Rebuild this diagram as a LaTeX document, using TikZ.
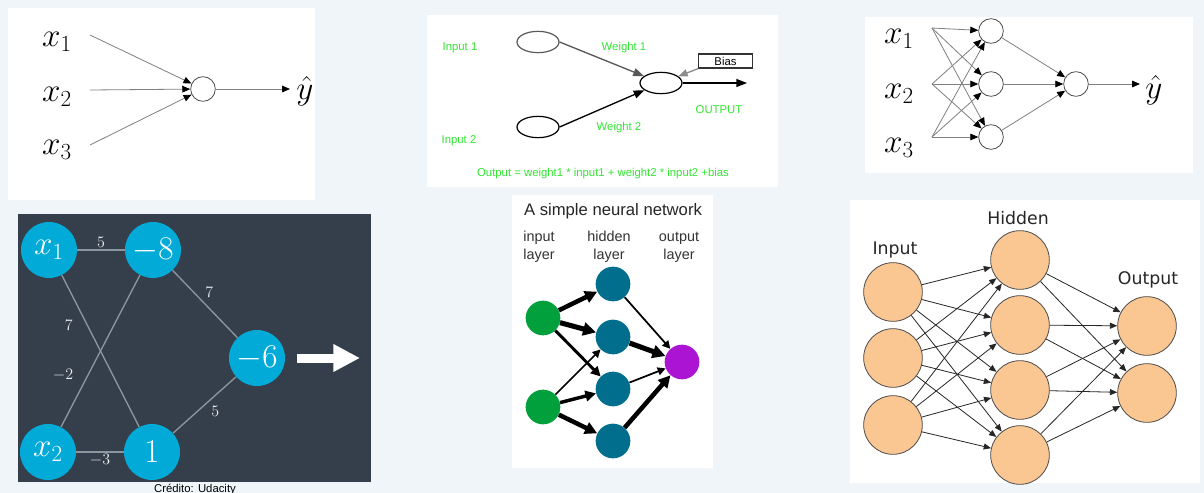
\documentclass[tikz,border=0pt]{standalone}
\usepackage{fontspec}
\newfontfamily\arialfont{Liberation Sans}
\newfontfamily\verafont{DejaVu Sans}
\usetikzlibrary{arrows.meta,shapes.geometric,positioning}
\definecolor{pagebg}{RGB}{240,245,249}
\definecolor{slate}{RGB}{52,63,75}
\definecolor{cyanball}{RGB}{2,170,216}
\definecolor{edgegray}{RGB}{140,150,158}
\definecolor{formgreen}{RGB}{50,230,50}
\definecolor{ingreen}{RGB}{2,160,60}
\definecolor{hidteal}{RGB}{0,110,140}
\definecolor{outpurple}{RGB}{170,20,210}
\definecolor{peach}{RGB}{250,198,146}
\tikzset{
  sn/.style={circle, draw=black!70, fill=white, minimum size=18.5pt, inner sep=0pt, line width=0.6pt},
  xl/.style={inner sep=0pt, font=\fontsize{24}{28}\selectfont},
  ga/.style={draw=black!50, line width=0.6pt, -{Triangle[length=6pt, width=5pt, color=black]}},
  el/.style={ellipse, draw=black, line width=0.9pt, minimum width=31.5pt, minimum height=16pt, inner sep=0pt},
  gt/.style={text=formgreen, inner sep=0pt, font=\arialfont\fontsize{8.5}{10}\selectfont},
  bx/.style={rectangle, draw=black!80, line width=0.8pt, minimum width=40pt, minimum height=10.5pt, inner sep=0pt, font=\arialfont\fontsize{8.5}{10}\selectfont},
  dn/.style={circle, fill=cyanball, text=white, minimum size=42pt, inner sep=0pt, font=\fontsize{25}{30}\selectfont},
  dl/.style={draw=edgegray, line width=1pt},
  wl/.style={text=white!85!edgegray, inner sep=1.5pt, font=\fontsize{11.5}{13}\selectfont},
  lay/.style={align=center, inner sep=0pt, font=\arialfont\fontsize{10.8}{13.7}\selectfont, text=black!80},
  ar/.style={draw=black, line width=#1, -{Triangle[length=4pt 1.5, width=4pt 1.5]}},
  pn/.style={circle, minimum size=26pt, inner sep=0pt},
  on/.style={circle, draw=black!70, fill=peach, minimum size=44pt, inner sep=0pt, line width=0.6pt},
  oa/.style={draw=black!85, line width=0.6pt, -{Triangle[length=5.5pt, width=4.5pt]}},
  ot/.style={inner sep=0pt, font=\verafont\fontsize{13}{15}\selectfont, text=black!85}
}
\begin{document}
\begin{tikzpicture}[x=0.75pt, y=-0.75pt]
\useasboundingbox (0,0) rectangle (1204,493);
\fill[pagebg] (0,0) rectangle (1204,493);
\fill[white] (8,8) rectangle (315,200);
\fill[white] (427,15) rectangle (778,187);
\fill[white] (865,17) rectangle (1193,173);
\fill[white] (512,195) rectangle (713,468);
\fill[white] (850,200) rectangle (1200,483);

% single neuron
\node[xl] (ax1) at (57,42) {$x_1$};
\node[xl] (ax2) at (57,97) {$x_2$};
\node[xl] (ax3) at (57,150) {$x_3$};
\coordinate (as1) at (90,35);
\coordinate (as2) at (90,90);
\coordinate (as3) at (90,145);
\node[sn] (an) at (203,89) {};
\coordinate (aend) at (290,89);
\node[xl] (ayhat) at (305,91) {$\hat{y}$};
\path
(as1) edge[ga] (an)
(as2) edge[ga] (an)
(as3) edge[ga] (an)
(an) edge[ga] (aend);

% weights and bias
\node[gt] (bin1) at (460,48) {Input 1};
\node[el, draw=black!65] (be1) at (538,42) {};
\node[gt] (bw1) at (624,48) {Weight 1};
\node[el] (bo) at (661,83) {};
\node[bx] (bbias) at (725.5,61) {Bias};
\node[gt] (bout) at (719,110) {OUTPUT};
\node[el] (be2) at (538,127) {};
\node[gt] (bw2) at (619,128) {Weight 2};
\node[gt] (bin2) at (459,141) {Input 2};
\node[gt] (bform) at (603,174) {Output = weight1 * input1 + weight2 * input2 +bias};
\coordinate (bend) at (747,83);
\path
(be1.east) edge[draw=black!65, line width=1pt, -{Triangle[length=8pt, width=6pt]}] (bo)
(bbias.south west) edge[draw=black!45, line width=1pt, -{Triangle[length=7pt, width=5.5pt]}] (bo)
(be2.east) edge[draw=black, line width=1pt, -{Triangle[length=8pt, width=6pt]}] (bo)
(bo.east) edge[draw=black, line width=1pt, -{Triangle[length=8pt, width=6pt]}] (bend);

% one hidden layer
\node[xl, font=\fontsize{23}{27}\selectfont] (cx1) at (899,39) {$x_1$};
\node[xl, font=\fontsize{23}{27}\selectfont] (cx2) at (899,94) {$x_2$};
\node[xl, font=\fontsize{23}{27}\selectfont] (cx3) at (899,148) {$x_3$};
\coordinate (cs1) at (932,28);
\coordinate (cs2) at (932,84);
\coordinate (cs3) at (932,137);
\node[sn] (ch1) at (991,31) {};
\node[sn] (ch2) at (991,84) {};
\node[sn] (ch3) at (991,137) {};
\node[sn] (co) at (1076,84) {};
\coordinate (cend) at (1140,84);
\node[xl, font=\fontsize{23}{27}\selectfont] (cyhat) at (1154,90) {$\hat{y}$};
\path
(cs1) edge[ga] (ch1)
(cs1) edge[ga] (ch2)
(cs1) edge[ga] (ch3)
(cs2) edge[ga] (ch1)
(cs2) edge[ga] (ch2)
(cs2) edge[ga] (ch3)
(cs3) edge[ga] (ch1)
(cs3) edge[ga] (ch2)
(cs3) edge[ga] (ch3)
(ch1) edge[ga] (co)
(ch2) edge[ga] (co)
(ch3) edge[ga] (co)
(co) edge[ga] (cend);

% worked example on dark panel
\fill[slate] (18,214) rectangle (371,482);
\node[dn] (dx1) at (49,250) {$x_1$};
\node[dn] (dm8) at (153,250) {$-8$};
\node[dn] (dm6) at (257,358) {$-6$};
\node[dn] (dx2) at (48,452) {$x_2$};
\node[dn] (done) at (152,452) {$1$};
\path
(dx1) edge[dl] node[wl, above] {$5$} (dm8)
(dx1) edge[dl] node[wl, left=9pt, pos=0.33] {$7$} (done)
(dx2) edge[dl] node[wl, left=9pt, pos=0.34] {$-2$} (dm8)
(dx2) edge[dl] node[wl, below] {$-3$} (done)
(dm8) edge[dl] node[wl, above right=1pt, pos=0.45] {$7$} (dm6)
(done) edge[dl] node[wl, below right=1pt, pos=0.55] {$5$} (dm6);
\coordinate (dwa) at (297,358);
\coordinate (dwb) at (360,358);
\draw[white, line width=6.75pt, -{Triangle[length=20pt, width=19.5pt]}] (dwa) -- (dwb);
\node[anchor=north, inner sep=0pt, font=\arialfont\fontsize{8.5}{10}\selectfont] (dcap) at (195,483.5) {Crédito: Udacity};

% simple neural network
\node[inner sep=0pt, font=\arialfont\fontsize{12.5}{15}\selectfont, text=black!85] (etitle) at (613,211) {A simple neural network};
\node[lay] (elin) at (539,247) {input\\layer};
\node[lay] (elhid) at (609,247) {hidden\\layer};
\node[lay] (elout) at (679,247) {output\\layer};
\node[pn, fill=ingreen] (ei1) at (543,318) {};
\node[pn, fill=ingreen] (ei2) at (543,407) {};
\node[pn, fill=hidteal] (eh1) at (613,284) {};
\node[pn, fill=hidteal] (eh2) at (613,337) {};
\node[pn, fill=hidteal] (eh3) at (613,389) {};
\node[pn, fill=hidteal] (eh4) at (613,441) {};
\node[pn, fill=outpurple] (eo) at (682,362) {};
\path
(ei1) edge[ar=3.4pt] (eh1)
(ei1) edge[ar=3.8pt] (eh2)
(ei1) edge[ar=2.2pt] (eh3)
(ei2) edge[ar=1.3pt] (eh2)
(ei2) edge[ar=2.6pt] (eh3)
(ei2) edge[ar=3.4pt] (eh4)
(eh1) edge[ar=1.3pt] (eo)
(eh2) edge[ar=3.8pt] (eo)
(eh3) edge[ar=1.3pt] (eo)
(eh4) edge[ar=3.4pt] (eo);

% input hidden output
\node[ot] (ftin) at (895,250) {Input};
\node[ot] (fthid) at (1018,218) {Hidden};
\node[ot] (ftout) at (1148,280) {Output};
\node[on] (fi1) at (893,292) {};
\node[on] (fi2) at (893,358) {};
\node[on] (fi3) at (893,425) {};
\node[on] (fh1) at (1020,260) {};
\node[on] (fh2) at (1020,325) {};
\node[on] (fh3) at (1020,390) {};
\node[on] (fh4) at (1020,455) {};
\node[on] (fo1) at (1147,326) {};
\node[on] (fo2) at (1147,393) {};
\path
(fi1) edge[oa] (fh1)
(fi1) edge[oa] (fh2)
(fi1) edge[oa] (fh3)
(fi1) edge[oa] (fh4)
(fi2) edge[oa] (fh1)
(fi2) edge[oa] (fh2)
(fi2) edge[oa] (fh3)
(fi2) edge[oa] (fh4)
(fi3) edge[oa] (fh1)
(fi3) edge[oa] (fh2)
(fi3) edge[oa] (fh3)
(fi3) edge[oa] (fh4)
(fh1) edge[oa] (fo1)
(fh1) edge[oa] (fo2)
(fh2) edge[oa] (fo1)
(fh2) edge[oa] (fo2)
(fh3) edge[oa] (fo1)
(fh3) edge[oa] (fo2)
(fh4) edge[oa] (fo1)
(fh4) edge[oa] (fo2);
\end{tikzpicture}
\end{document}
